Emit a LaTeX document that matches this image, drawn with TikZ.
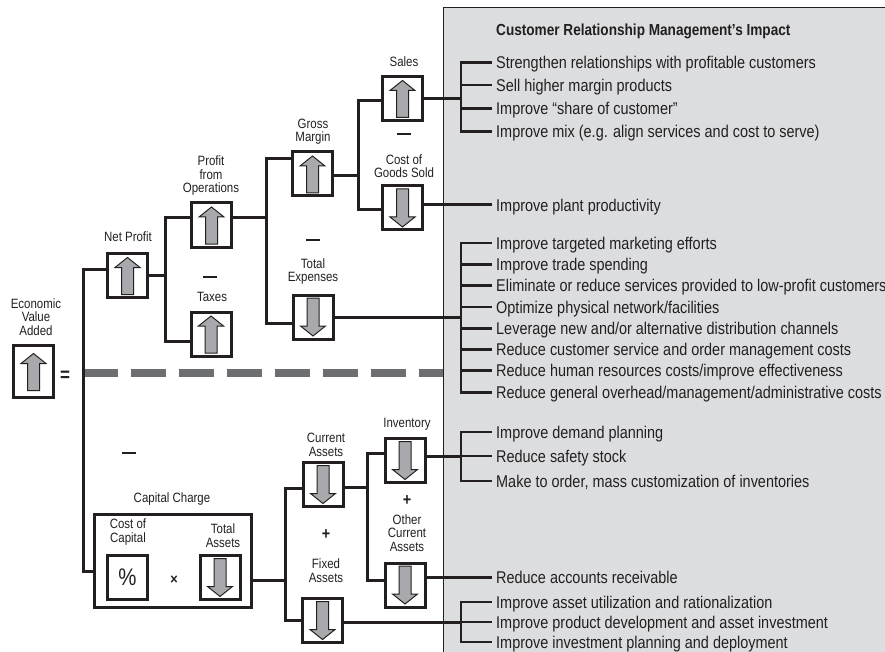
\documentclass[tikz,border=0pt]{standalone}
\usepackage{fontspec}
\setmainfont{Liberation Sans}[FakeStretch=0.85]
\usetikzlibrary{calc}

\definecolor{panelgray}{HTML}{DCDDDF}
\definecolor{ink}{HTML}{231F20}
\definecolor{arrowgray}{HTML}{A7A9AC}
\definecolor{dashgray}{HTML}{6D6E71}

\tikzset{
  box/.style={draw=ink, line width=3pt, minimum width=40pt, minimum height=44pt,
    inner sep=0pt, outer sep=0pt},
  conn/.style={draw=ink, line width=3pt},
  tick/.style={draw=ink, line width=2.8pt},
  lbl/.style={font=\fontsize{13.5}{13.5}\selectfont, align=center, text=ink, inner sep=0pt},
  item/.style={anchor=west, font=\fontsize{17}{17}\selectfont, text=ink,
    inner xsep=4pt, inner ysep=0pt, text height=12.2pt, text depth=0pt},
  sign/.style={text=ink, inner sep=0pt, font=\bfseries\fontsize{17}{17}\selectfont},
  arrowshape/.style={fill=arrowgray, draw=ink, line width=1pt, line join=miter},
}

% grey arrow glyphs drawn inside a box node
\newcommand{\UpGlyph}[1]{%
  \draw[arrowshape] ($(#1.center)+(0,-18)$) -- ++(12.5,10) -- ++(-6.5,0) -- ++(0,27)
    -- ++(-12,0) -- ++(0,-27) -- ++(-6.5,0) -- cycle;}
\newcommand{\DownGlyph}[1]{%
  \draw[arrowshape] ($(#1.center)+(0,19)$) -- ++(12.5,-10) -- ++(-6.5,0) -- ++(0,-28)
    -- ++(-12,0) -- ++(0,28) -- ++(-6.5,0) -- cycle;}
\newcommand{\MinusMark}{\rule{14pt}{2.7pt}}

\begin{document}
\begin{tikzpicture}[x=1pt, y=-1pt]
\useasboundingbox (0,0) rectangle (885,652);

% impact panel
\fill[panelgray] (443,8) rectangle (890,660);
\draw[ink, line width=1pt] (443,660) -- (443,8) -- (890,8);

% separator between profit and capital sides
\draw[dashgray, line width=8pt, dash pattern=on 35pt off 13pt] (83,373) -- (443,373);

% ---------- value tree: boxes ----------
\node[box, minimum height=52pt] (eva) at (33.5,371.5) {};
\node[lbl] (evalbl) at (36,317) {Economic\\Value\\Added};
\node[sign, font=\bfseries\fontsize{20}{20}\selectfont] (eq) at (65,376) {=};

\node[box] (np) at (127.5,275.5) {};
\node[lbl] (nplbl) at (128,237) {Net Profit};

\node[box] (pfo) at (211.5,225) {};
\node[lbl] (pfolbl) at (211,176) {Profit\\from\\Operations};
\node[sign] (m1) at (210,277) {\MinusMark};
\node[box] (tax) at (211,334) {};
\node[lbl] (taxlbl) at (212,297) {Taxes};

\node[box] (gm) at (312.5,174) {};
\node[lbl] (gmlbl) at (313,131.5) {Gross\\Margin};
\node[sign] (m2) at (313,240) {\MinusMark};
\node[box] (te) at (313,317) {};
\node[lbl] (telbl) at (313,271.5) {Total\\Expenses};

\node[box] (sales) at (402.5,98.5) {};
\node[lbl] (saleslbl) at (404,62) {Sales};
\node[sign] (m3) at (404,134) {\MinusMark};
\node[box] (cogs) at (402.5,208) {};
\node[lbl] (cogslbl) at (404,166) {Cost of\\Goods Sold};

\node[sign] (m4) at (129,453) {\MinusMark};
\node[box, minimum width=157pt, minimum height=93pt] (cc) at (173,561) {};
\node[lbl] (cclbl) at (172,499) {Capital Charge};
\node[lbl] (coclbl) at (128,532) {Cost of\\Capital};
\node[box, font=\fontsize{24}{24}\selectfont, text=ink] (pct) at (127.5,577.5) {\%};
\node[sign, font=\bfseries\fontsize{15}{15}\selectfont] (times) at (174,580) {×};
\node[lbl] (talbl) at (223,535.5) {Total\\Assets};
\node[box] (ta) at (220,577.5) {};

\node[box] (ca) at (323,484.5) {};
\node[lbl] (calbl) at (326,445) {Current\\Assets};
\node[sign] (p1) at (326,535) {+};
\node[lbl] (falbl) at (326,570.5) {Fixed\\Assets};
\node[box] (fa) at (322.5,620.5) {};

\node[box] (inv) at (405,460.5) {};
\node[lbl] (invlbl) at (407,424) {Inventory};
\node[sign] (p2) at (407,501) {+};
\node[lbl] (ocalbl) at (407,533) {Other\\Current\\Assets};
\node[box] (oca) at (405,585) {};

% arrows inside the boxes
\UpGlyph{eva}
\UpGlyph{np}
\UpGlyph{pfo}
\UpGlyph{tax}
\UpGlyph{gm}
\UpGlyph{sales}
\DownGlyph{cogs}
\DownGlyph{te}
\DownGlyph{ta}
\DownGlyph{ca}
\DownGlyph{fa}
\DownGlyph{inv}
\DownGlyph{oca}

% ---------- impact panel texts ----------
\node[anchor=west, inner sep=0pt, text=ink, font=\bfseries\fontsize{16}{16}\selectfont,
  text height=11.5pt, text depth=0pt] (title) at (496,30)
  {Customer Relationship Management’s Impact};

\node[item] (a1) at (492,62.3)  {Strengthen relationships with profitable customers};
\node[item] (a2) at (492,85)    {Sell higher margin products};
\node[item] (a3) at (492,108.3) {Improve “share of customer”};
\node[item] (a4) at (492,131.7) {Improve mix (e.g. align services and cost to serve)};

\node[item] (b1) at (492,205) {Improve plant productivity};

\node[item] (c1) at (492,243)   {Improve targeted marketing efforts};
\node[item] (c2) at (492,264.3) {Improve trade spending};
\node[item] (c3) at (492,285.6) {Eliminate or reduce services provided to low-profit customers};
\node[item] (c4) at (492,306.9) {Optimize physical network/facilities};
\node[item] (c5) at (492,328.2) {Leverage new and/or alternative distribution channels};
\node[item] (c6) at (492,349.5) {Reduce customer service and order management costs};
\node[item] (c7) at (492,370.8) {Reduce human resources costs/improve effectiveness};
\node[item] (c8) at (492,392.1) {Reduce general overhead/management/administrative costs};

\node[item] (d1) at (492,432) {Improve demand planning};
\node[item] (d2) at (492,456) {Reduce safety stock};
\node[item] (d3) at (492,481) {Make to order, mass customization of inventories};

\node[item] (e1) at (492,577) {Reduce accounts receivable};

\node[item] (f1) at (492,602) {Improve asset utilization and rationalization};
\node[item] (f2) at (492,622) {Improve product development and asset investment};
\node[item] (f3) at (492,642) {Improve investment planning and deployment};

% ---------- connectors of the value tree ----------
\coordinate (sp1) at (83,400);
\coordinate (sp2) at (165,300);
\coordinate (sp3) at (266,250);
\coordinate (sp4) at (358,150);
\coordinate (sp5) at (285,550);
\coordinate (sp6) at (367,520);
\coordinate (brx) at (461,0);

\draw[conn] ([yshift=6.5pt]np.west) -| (sp1) |- ([yshift=-10pt]cc.west);

\draw[conn] (np.east) -| (sp2);
\draw[conn] ([yshift=7pt]pfo.west) -| (sp2) |- ([yshift=-7pt]tax.west);

\draw[conn] ([yshift=7pt]pfo.east) -| (sp3);
\draw[conn] ([yshift=15pt]gm.west) -| (sp3) |- ([yshift=-6pt]te.west);

\draw[conn] ([yshift=-2pt]gm.east) -| (sp4);
\draw[conn] ([yshift=-2.5pt]sales.west) -| (sp4) |- ([yshift=-2pt]cogs.west);

\draw[conn] ([yshift=-19pt]cc.east) -| (sp5);
\draw[conn] ([yshift=-3.5pt]ca.west) -| (sp5) |- (fa.west);

\draw[conn] ([yshift=-2.5pt]ca.east) -| (sp6);
\draw[conn] ([yshift=7.5pt]inv.west) -| (sp6) |- ([yshift=5pt]oca.west);

% ---------- links from the tree into the impact lists ----------
\draw[conn] (sales.east) -- (sales.east -| brx);
\draw[conn] (b1.west -| cogs.east) -- (b1.west);
\draw[conn] (te.east) -- (te.east -| brx);
\draw[conn] (d2.west -| inv.east) -- (d2.west -| brx);
\draw[conn] (e1.west -| oca.east) -- (e1.west);
\draw[conn] (f2.west -| fa.east) -- (f2.west -| brx);

% brackets
\draw[tick] (a1.west) -- (a1.west -| brx) -- (a4.west -| brx) -- (a4.west);
\foreach \n in {a2,a3} \draw[tick] (\n.west) -- (\n.west -| brx);

\draw[tick] (c1.west) -- (c1.west -| brx) -- (c8.west -| brx) -- (c8.west);
\foreach \n in {c2,c3,c4,c5,c6,c7} \draw[tick] (\n.west) -- (\n.west -| brx);

\draw[tick] (d1.west) -- (d1.west -| brx) -- (d3.west -| brx) -- (d3.west);
\draw[tick] (d2.west) -- (d2.west -| brx);

\draw[tick] (f1.west) -- (f1.west -| brx) -- (f3.west -| brx) -- (f3.west);
\draw[tick] (f2.west) -- (f2.west -| brx);
\end{tikzpicture}
\end{document}
